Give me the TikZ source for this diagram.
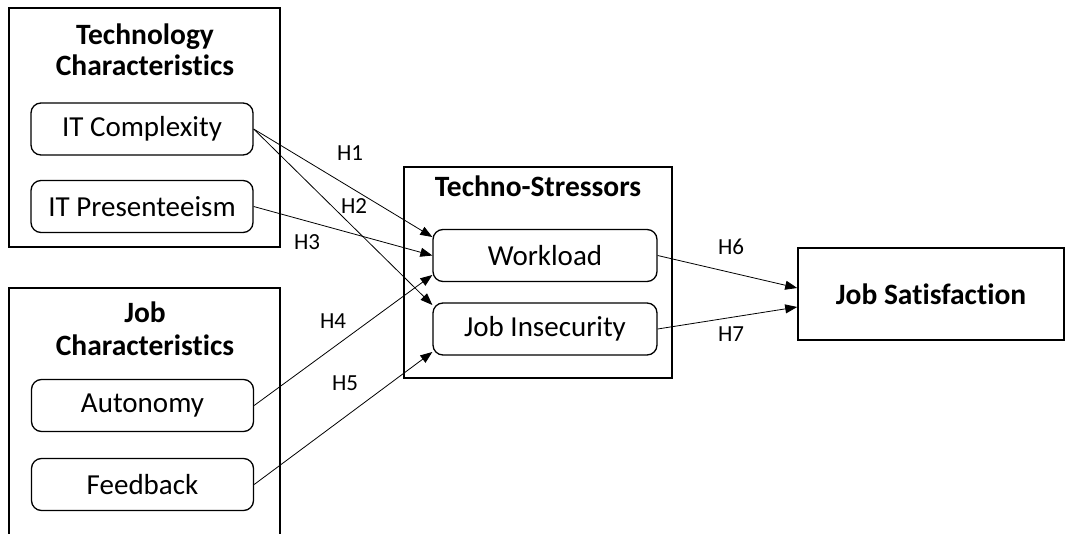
\documentclass[tikz,border=0pt]{standalone}
\usepackage{fontspec}
\setmainfont[Ligatures=NoCommon]{Carlito}
\usetikzlibrary{arrows.meta,calc}
\begin{document}
\begin{tikzpicture}[x=1pt,y=-1pt,
  outer/.style={draw,line width=1.6pt,inner sep=0pt},
  inner/.style={draw,line width=1.3pt,rounded corners=10pt,minimum width=222pt,minimum height=52pt,inner sep=0pt,font=\fontsize{29}{34}\selectfont},
  ttl/.style={anchor=base,font=\bfseries\fontsize{29.5}{34}\selectfont,inner sep=0pt},
  hyp/.style={font=\fontsize{23}{28}\selectfont,inner sep=0pt},
  arr/.style={line width=0.8pt,-{Triangle[length=12pt,width=9pt]}}]
\clip (0,0) rectangle (1067,534);
\useasboundingbox (0,0) rectangle (1067,534);
% outer containers
\node[outer,minimum width=271pt,minimum height=239pt] (tech) at (144.5,127.5) {};
\node[outer,minimum width=271pt,minimum height=300pt] (job) at (144.5,438) {};
\node[outer,minimum width=268pt,minimum height=211pt] (ts) at (538,272.5) {};
\node[outer,minimum width=266pt,minimum height=92pt,font=\bfseries\fontsize{29.5}{34}\selectfont] (js) at (931,294) {Job Satisfaction};
% titles
\node[ttl] (t1) at (145,45) {Technology};
\node[ttl] (t2) at (145,76) {Characteristics};
\node[ttl] (j1) at (145,323) {Job};
\node[ttl] (j2) at (145,355) {Characteristics};
\node[ttl] (s1) at (538,197) {Techno-Stressors};
% inner boxes
\node[inner] (itc) at (142,129) {IT Complexity};
\node[inner] (itp) at (142,206.5) {IT Presenteeism};
\node[inner] (aut) at (142.5,405.5) {Autonomy};
\node[inner] (fb) at (142.5,484.5) {Feedback};
\node[inner,minimum width=224pt] (wl) at (545,255.5) {Workload};
\node[inner,minimum width=224pt] (ji) at (545,329) {Job Insecurity};
% arrows
\draw[arr] (itc.east) -- ($(wl.west)+(0,-18.5)$);
\draw[arr] (itc.east) -- ($(ji.west)+(0,-24)$);
\draw[arr] (itp.east) -- (wl.west);
\draw[arr] (aut.east) -- ($(wl.west)+(0,19.5)$);
\draw[arr] (fb.east) -- ($(ji.west)+(0,23)$);
\draw[arr] (wl.east) -- ($(js.west)+(0,-6)$);
\draw[arr] (ji.east) -- ($(js.west)+(0,13)$);
% labels
\node[hyp] (h1) at (350,153) {H1};
\node[hyp] (h2) at (354,206) {H2};
\node[hyp] (h3) at (307,242) {H3};
\node[hyp] (h4) at (333,321) {H4};
\node[hyp] (h5) at (345,383) {H5};
\node[hyp] (h6) at (731,247) {H6};
\node[hyp] (h7) at (731,334) {H7};
\end{tikzpicture}
\end{document}
